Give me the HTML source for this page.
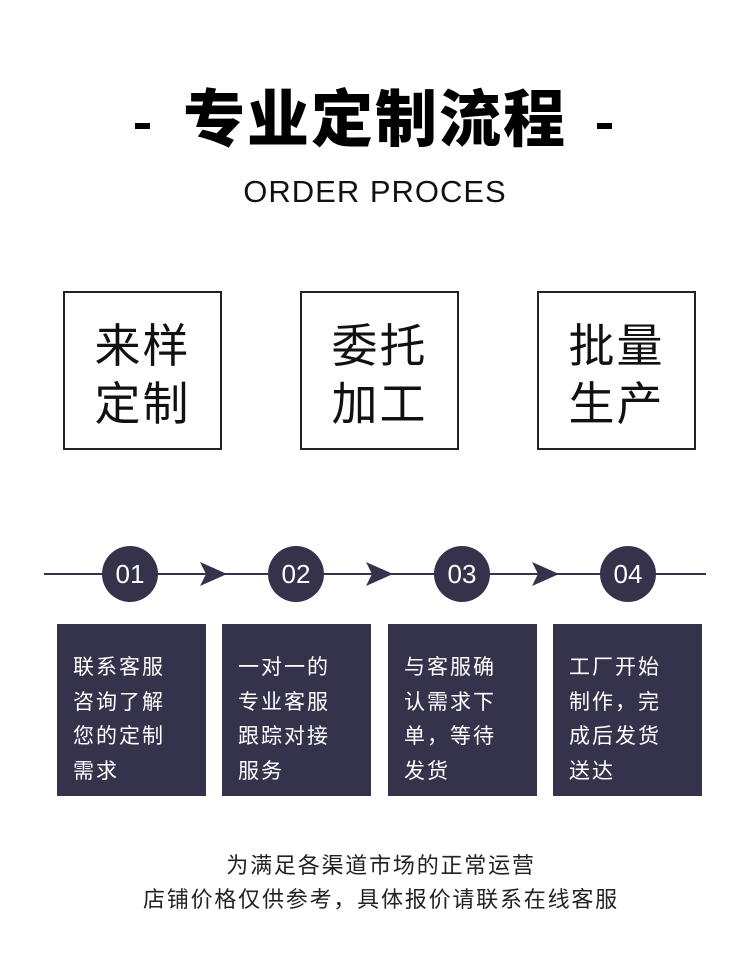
<!DOCTYPE html>
<html><head><meta charset="utf-8"><style>
body{margin:0;width:750px;height:968px;background:#fff;position:relative;overflow:hidden;font-family:"Liberation Sans","Noto Sans CJK SC",sans-serif;}
.a{position:absolute;}
.title{left:0;width:750px;top:81px;text-align:center;font-size:62px;font-weight:900;letter-spacing:2px;line-height:80px;color:#000;}
.dash{width:15px;height:6px;background:#000;top:123px;}
.sub{left:0;width:750px;top:171px;text-align:center;font-size:31px;font-weight:300;letter-spacing:1px;line-height:42px;color:#111;}
.box{width:155px;height:155px;border:2px solid #222;top:291px;font-size:46px;line-height:58px;text-align:center;color:#111;box-sizing:content-box;}
.box div{padding-top:24px;letter-spacing:2px;}
.c{width:56px;height:56px;border-radius:50%;background:#35324c;color:#fff;font-size:26px;line-height:56px;text-align:center;top:546px;}
.d{width:149px;height:172px;background:#35324c;top:624px;color:#fff;font-size:21px;line-height:34.5px;letter-spacing:2px;padding:27px 0 0 16px;box-sizing:border-box;}
.f{left:6px;width:750px;text-align:center;font-size:22px;letter-spacing:1.8px;color:#222;line-height:34px;}
</style></head><body>
<div class="a dash" style="left:135px"></div>
<div class="a dash" style="left:597px"></div>
<div class="a title">专业定制流程</div>
<div class="a sub">ORDER PROCES</div>
<div class="a box" style="left:63px"><div>来样<br>定制</div></div>
<div class="a box" style="left:300px"><div>委托<br>加工</div></div>
<div class="a box" style="left:537px"><div>批量<br>生产</div></div>
<svg class="a" style="left:0;top:540px" width="750" height="70">
<line x1="44" y1="34" x2="706" y2="34" stroke="#35324c" stroke-width="2"/>
<path d="M200 22 L227 34 L200 46 L206 34 Z" fill="#35324c"/>
<path d="M366 22 L393 34 L366 46 L372 34 Z" fill="#35324c"/>
<path d="M532 22 L559 34 L532 46 L538 34 Z" fill="#35324c"/>
</svg>
<div class="a c" style="left:102px">01</div>
<div class="a c" style="left:268px">02</div>
<div class="a c" style="left:434px">03</div>
<div class="a c" style="left:600px">04</div>
<div class="a d" style="left:57px">联系客服<br>咨询了解<br>您的定制<br>需求</div>
<div class="a d" style="left:222px">一对一的<br>专业客服<br>跟踪对接<br>服务</div>
<div class="a d" style="left:388px">与客服确<br>认需求下<br>单，等待<br>发货</div>
<div class="a d" style="left:553px">工厂开始<br>制作，完<br>成后发货<br>送达</div>
<div class="a f" style="top:849px">为满足各渠道市场的正常运营</div>
<div class="a f" style="top:883px">店铺价格仅供参考，具体报价请联系在线客服</div>
</body></html>
